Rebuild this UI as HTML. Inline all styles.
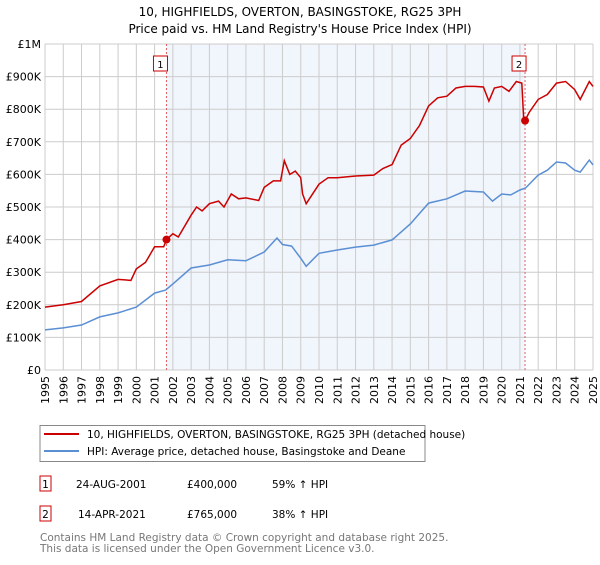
<!DOCTYPE html>
<html><head><meta charset="utf-8"><style>
body{margin:0;background:#fff;font-family:"Liberation Sans","DejaVu Sans",sans-serif;}
svg text{font-family:"DejaVu Sans","Liberation Sans",sans-serif;}
</style></head><body>
<svg id="chart" width="600" height="560" viewBox="0 0 600 560">
<text x="300" y="16" text-anchor="middle" font-size="12">10, HIGHFIELDS, OVERTON, BASINGSTOKE, RG25 3PH</text>
<text x="300" y="33" text-anchor="middle" font-size="12">Price paid vs. HM Land Registry's House Price Index (HPI)</text>
<g id="plot"></g>
<g>
<rect x="40" y="425.5" width="385" height="36" fill="#fff" stroke="#888"/>
<line x1="44" y1="434" x2="79" y2="434" stroke="#cc0000" stroke-width="2"/>
<text x="87" y="438" font-size="10.5">10, HIGHFIELDS, OVERTON, BASINGSTOKE, RG25 3PH (detached house)</text>
<line x1="44" y1="451" x2="79" y2="451" stroke="#5b8fd4" stroke-width="2"/>
<text x="87" y="455" font-size="10.5">HPI: Average price, detached house, Basingstoke and Deane</text>
</g>
<g>
<rect x="40" y="476" width="11" height="15" fill="#fff" stroke="#cc0000"/>
<text x="45.5" y="488" font-size="10.5" text-anchor="middle">1</text>
<text x="76" y="488" font-size="10.5">24-AUG-2001</text>
<text x="187" y="488" font-size="10.5">£400,000</text>
<text x="272" y="488" font-size="10.5">59% ↑ HPI</text>
<rect x="40" y="506" width="11" height="15" fill="#fff" stroke="#cc0000"/>
<text x="45.5" y="518" font-size="10.5" text-anchor="middle">2</text>
<text x="78" y="518" font-size="10.5">14-APR-2021</text>
<text x="187" y="518" font-size="10.5">£765,000</text>
<text x="272" y="518" font-size="10.5">38% ↑ HPI</text>
</g>
<text x="40" y="541" font-size="10.5" fill="#777">Contains HM Land Registry data © Crown copyright and database right 2025.</text>
<text x="40" y="552" font-size="10.5" fill="#777">This data is licensed under the Open Government Licence v3.0.</text>
</svg>
<script>
const yTicks=[0,100,200,300,400,500,600,700,800,900,1000];
const yTickLabels=["£0","£100K","£200K","£300K","£400K","£500K","£600K","£700K","£800K","£900K","£1M"];
const xYears=[1995,1996,1997,1998,1999,2000,2001,2002,2003,2004,2005,2006,2007,2008,2009,2010,2011,2012,2013,2014,2015,2016,2017,2018,2019,2020,2021,2022,2023,2024,2025];
const hpiDates=[1995,1996,1997,1998,1999,2000,2001,2001.6,2002,2003,2004,2005,2006,2007,2007.7,2008,2008.5,2009,2009.3,2010,2011,2012,2013,2014,2015,2016,2017,2018,2019,2019.5,2020,2020.5,2021,2021.3,2022,2022.5,2023,2023.5,2024,2024.3,2024.8,2025];
const hpiValues=[123,129,138,163,175,193,236,245,264,313,322,338,335,362,405,385,380,343,318,358,368,377,383,399,448,512,525,549,546,518,540,537,552,558,598,613,638,635,613,607,644,629];
const priceDates=[1995,1996,1997,1998,1999,1999.7,2000,2000.5,2001,2001.5,2001.65,2002,2002.3,2003,2003.3,2003.6,2004,2004.5,2004.8,2005.2,2005.6,2006,2006.7,2007,2007.5,2007.9,2008.1,2008.4,2008.7,2009,2009.1,2009.3,2010,2010.5,2011,2012,2013,2013.5,2014,2014.5,2015,2015.5,2016,2016.5,2017,2017.5,2018,2018.5,2019,2019.3,2019.6,2020,2020.4,2020.8,2021.1,2021.2,2021.28,2021.5,2022,2022.5,2023,2023.5,2024,2024.3,2024.8,2025];
const priceValues=[193,200,210,258,278,275,310,330,378,378,400,418,408,475,500,488,510,518,500,540,525,528,520,560,580,580,642,600,610,590,540,510,570,590,590,595,598,618,630,690,710,750,810,835,840,865,870,870,868,825,865,870,855,885,880,775,765,790,830,845,880,885,860,830,885,870];
const saleDates=[2001.65,2021.28];
const saleValues=[400,765];
const saleLabels=["1","2"];

const NS="http://www.w3.org/2000/svg";
const L=45,R=593,T=44,B=370;
const x=d=>L+(d-1995)/30*(R-L);
const y=v=>B-v/1000*(B-T);
const g=document.getElementById('plot');
function mk(t,a,p){const e=document.createElementNS(NS,t);for(const k in a)e.setAttribute(k,a[k]);(p||g).appendChild(e);return e;}
let e;
e=mk('rect',{x:L,y:T,width:R-L,height:B-T,fill:'#fff'});


e=mk('rect',{x:x(saleDates[0]),y:T,width:x(saleDates[1])-x(saleDates[0]),height:B-T,fill:'#eef2fb',opacity:0.8});


xYears.forEach((yr,i)=>{
 e=mk('line',{x1:x(yr),x2:x(yr),y1:T,y2:B,stroke:'#ccc','stroke-width':1});
 
 
 e=mk('text',{x:0,y:0,'font-size':11,'text-anchor':'end',transform:`translate(${x(yr)+4},${B+6}) rotate(-90)`});
 e.textContent=yr;
 
 
});
yTicks.forEach((v,i)=>{
 e=mk('line',{x1:L,x2:R,y1:y(v),y2:y(v),stroke:'#ccc','stroke-width':1});
 
 
 e=mk('text',{x:L-4,y:y(v)+4,'font-size':11,'text-anchor':'end'});
 e.textContent=yTickLabels[i];
 
 
});
saleDates.forEach((d,i)=>{
 e=mk('line',{x1:x(d),x2:x(d),y1:T,y2:B,stroke:'#e06060','stroke-width':1,'stroke-dasharray':'2,2'});
 
 
 e=mk('rect',{x:x(d)-13,y:T+12,width:14,height:15,fill:'#fff',stroke:'#cc0000'});
 
 
 e=mk('text',{x:x(d)-6,y:T+24,'font-size':10,'text-anchor':'middle'});
 e.textContent=saleLabels[i];
 
 
});
const pts=(ds,vs)=>ds.map((d,i)=>x(d).toFixed(1)+','+y(vs[i]).toFixed(1)).join(' ');
e=mk('polyline',{points:pts(hpiDates,hpiValues),fill:'none',stroke:'#5b8fd4','stroke-width':1.5});


e=mk('polyline',{points:pts(priceDates,priceValues),fill:'none',stroke:'#cc0000','stroke-width':1.5});


saleDates.forEach((d,i)=>{
 e=mk('circle',{cx:x(d),cy:y(saleValues[i]),r:4,fill:'#cc0000'});
 
 
});
</script>
</body></html>
